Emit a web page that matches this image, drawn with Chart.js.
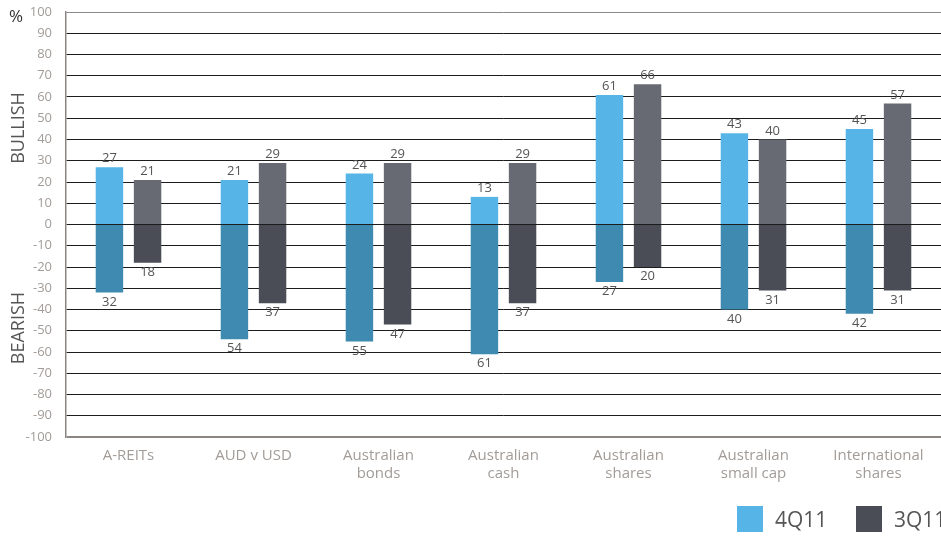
<!DOCTYPE html>
<html>
<head>
<meta charset="utf-8">
<script src="https://cdn.jsdelivr.net/npm/chart.js@4"></script>
<style>
  html, body { margin: 0; padding: 0; background: #fff; }
  #wrap { width: 941px; height: 536px; position: relative; }
</style>
</head>
<body>
<div id="wrap"><canvas id="sentiment"></canvas></div>
<script>
// Investor sentiment: bullish (up) vs bearish (down) by asset class
const categories = [['A-REITs'], ['AUD v USD'], ['Australian', 'bonds'], ['Australian', 'cash'],
  ['Australian', 'shares'], ['Australian', 'small cap'], ['International', 'shares']];
const bullish4Q11 = [27, 21, 24, 13, 61, 43, 45];
const bearish4Q11 = [32, 54, 55, 61, 27, 40, 42];
const bullish3Q11 = [21, 29, 29, 29, 66, 40, 57];
const bearish3Q11 = [18, 37, 47, 37, 20, 31, 31];
const yTicks = [-100, -90, -80, -70, -60, -50, -40, -30, -20, -10, 0, 10, 20, 30, 40, 50, 60, 70, 80, 90, 100];

const FONT = '"Open Sans", "Noto Sans", sans-serif';
const GREY_TXT = '#a29c98';

const neg = arr => arr.map(v => -v);

// value labels above/below each bar
const valueLabels = {
  id: 'valueLabels',
  afterDatasetsDraw(chart) {
    const ctx = chart.ctx;
    ctx.save();
    ctx.font = '13px ' + FONT;
    ctx.fillStyle = '#555';
    ctx.textAlign = 'center';
    chart.data.datasets.forEach((ds, i) => {
      const meta = chart.getDatasetMeta(i);
      meta.data.forEach((bar, j) => {
        const v = ds.data[j];
        if (v >= 0) {
          ctx.textBaseline = 'bottom';
          ctx.fillText(String(v), bar.x, bar.y - 2);
        } else {
          ctx.textBaseline = 'top';
          ctx.fillText(String(-v), bar.x, bar.y + 3);
        }
      });
    });
    ctx.restore();
  }
};

// side captions, % sign and legend squares
const decorations = {
  id: 'decorations',
  afterDraw(chart) {
    const ctx = chart.ctx;
    ctx.save();
    ctx.fillStyle = '#333';
    ctx.font = '17px ' + FONT;
    ctx.textAlign = 'left';
    ctx.textBaseline = 'middle';
    ctx.fillText('%', 9, 17);

    ctx.fillStyle = '#555';
    ctx.font = '18px ' + FONT;
    ctx.textAlign = 'center';
    [['BULLISH', 128], ['BEARISH', 328]].forEach(([t, y]) => {
      ctx.save();
      ctx.translate(19, y);
      ctx.rotate(-Math.PI / 2);
      ctx.fillText(t, 0, 0);
      ctx.restore();
    });

    const items = [
      { label: '4Q11', color: '#56b4e6', x: 737 },
      { label: '3Q11', color: '#4a4d56', x: 856 }
    ];
    ctx.font = '21px ' + FONT;
    ctx.textAlign = 'left';
    ctx.textBaseline = 'middle';
    items.forEach(it => {
      ctx.fillStyle = it.color;
      ctx.fillRect(it.x, 506, 26, 26);
      ctx.fillStyle = '#555';
      ctx.fillText(it.label, it.x + 38, 521);
    });
    ctx.restore();
  }
};

new Chart(document.getElementById('sentiment'), {
  type: 'bar',
  data: {
    labels: categories,
    datasets: [
      { label: '4Q11', data: bullish4Q11, backgroundColor: '#56b4e6', stack: 'q4' },
      { label: '4Q11 bearish', data: neg(bearish4Q11), backgroundColor: '#3f8ab0', stack: 'q4' },
      { label: '3Q11', data: bullish3Q11, backgroundColor: '#676a72', stack: 'q3' },
      { label: '3Q11 bearish', data: neg(bearish3Q11), backgroundColor: '#4a4d56', stack: 'q3' }
    ]
  },
  options: {
    responsive: true,
    maintainAspectRatio: false,
    animation: false,
    categoryPercentage: 0.61,
    barPercentage: 0.72,
    layout: { padding: { top: 12, right: 0, left: 0, bottom: 0 } },
    plugins: { legend: { display: false }, tooltip: { enabled: false } },
    scales: {
      x: {
        stacked: true,
        grid: { display: false },
        border: { display: false },
        ticks: {
          color: GREY_TXT,
          font: { family: FONT, size: 15, lineHeight: 1.2 },
          padding: 2,
          maxRotation: 0,
          autoSkip: false
        },
        afterFit(scale) { scale.height = 99; }
      },
      y: {
        stacked: true,
        min: -100,
        max: 100,
        afterBuildTicks(scale) { scale.ticks = yTicks.map(v => ({ value: v })); },
        ticks: {
          color: GREY_TXT,
          font: { family: FONT, size: 13 },
          padding: 14
        },
        grid: {
          drawTicks: false,
          color: ctx => {
            const v = ctx.tick && ctx.tick.value;
            if (v === -100) return '#8c8683';
            if (v === 100) return '#8a8a8a';
            return '#1c1c1c';
          },
          lineWidth: ctx => {
            const v = ctx.tick && ctx.tick.value;
            return v === -100 ? 2 : 1;
          }
        },
        border: { display: true, color: '#8c8683', width: 1.5 },
        afterFit(scale) {
          scale.width = 66;
          scale.paddingTop = 0;
          scale.paddingBottom = 0;
        }
      }
    }
  },
  plugins: [valueLabels, decorations]
});
</script>
</body>
</html>
